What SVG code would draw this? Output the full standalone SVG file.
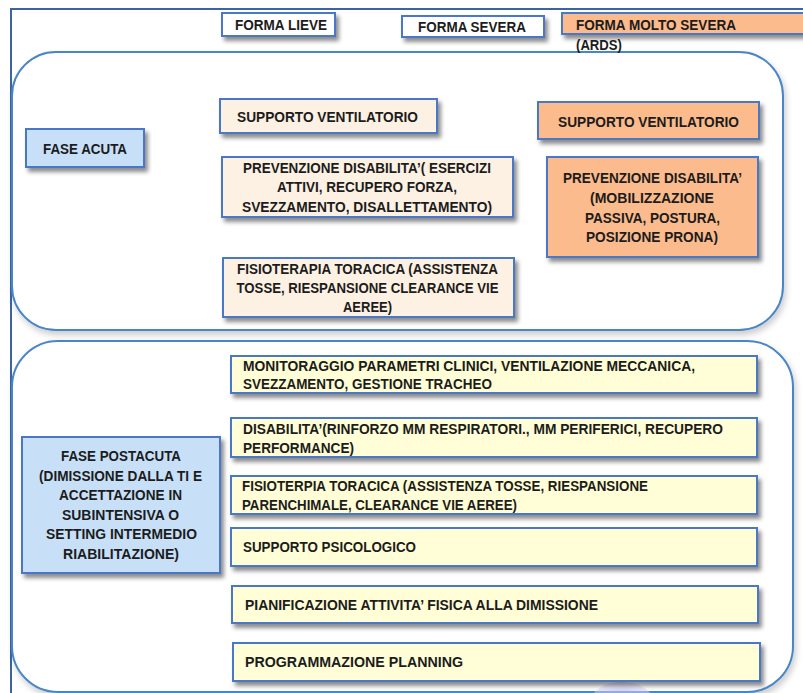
<svg xmlns="http://www.w3.org/2000/svg" width="803" height="693" viewBox="0 0 803 693">
<defs>
<style>
text{font-family:"Liberation Sans",Arial,sans-serif;font-weight:bold;font-size:14.5px;fill:#1c1c1c;}
.c{text-anchor:middle;}
.box{stroke:#4A78C8;stroke-width:2;}
.peach{fill:#FDF1E4;}
.orange{fill:#FBBB8C;}
.blue{fill:#C7E0F8;}
.yellow{fill:#FFFED6;}
.white{fill:#FFFFFF;}
.panel{fill:#FFFFFF;stroke:#4A86C8;stroke-width:2;}
</style>
<filter id="sh" x="-10%" y="-20%" width="130%" height="160%">
<feDropShadow dx="3" dy="4" stdDeviation="2" flood-color="#000" flood-opacity="0.45"/>
</filter>
<filter id="psh" x="-5%" y="-5%" width="110%" height="115%">
<feDropShadow dx="2" dy="4" stdDeviation="3" flood-color="#000" flood-opacity="0.2"/>
</filter>
<radialGradient id="blob" cx="50%" cy="60%" r="55%">
<stop offset="0" stop-color="#9090E0"/>
<stop offset="1" stop-color="#D0D0F4" stop-opacity="0.5"/>
</radialGradient>
</defs>

<rect width="803" height="693" fill="#FFFFFF"/>
<g id="frame">
<rect x="11" y="9" width="820" height="720" fill="#FFFFFF" stroke="#3C64A0" stroke-width="2"/>
</g>

<g id="panel-acuta">
<rect class="panel" filter="url(#psh)" x="12" y="52" width="771" height="278" rx="44" ry="44"/>
</g>
<g id="panel-postacuta">
<rect class="panel" filter="url(#psh)" x="12" y="341" width="781" height="351" rx="46" ry="46"/>
</g>
<ellipse cx="622" cy="703" rx="32" ry="21" fill="url(#blob)"/>

<g id="forma-lieve">
<rect class="box white" filter="url(#sh)" x="222" y="13" width="113" height="23"/>
<text class="c" x="281" y="30" textLength="92" lengthAdjust="spacingAndGlyphs">FORMA LIEVE</text>
</g>
<g id="forma-severa">
<rect class="box white" filter="url(#sh)" x="402" y="16" width="142" height="21"/>
<text class="c" x="472" y="32" textLength="108" lengthAdjust="spacingAndGlyphs">FORMA SEVERA</text>
</g>
<g id="forma-molto-severa">
<rect class="box orange" filter="url(#sh)" x="562" y="13" width="260" height="21"/>
<text x="576" y="29.5" textLength="160" lengthAdjust="spacingAndGlyphs">FORMA MOLTO SEVERA</text>
<text x="576" y="50" textLength="46" lengthAdjust="spacingAndGlyphs">(ARDS)</text>
</g>

<g id="fase-acuta">
<rect class="box blue" filter="url(#sh)" x="26" y="129" width="118" height="38"/>
<text class="c" x="85" y="153.5" textLength="84" lengthAdjust="spacingAndGlyphs">FASE ACUTA</text>
</g>
<g id="supporto-ventilatorio-severa">
<rect class="box peach" filter="url(#sh)" x="220" y="99" width="217" height="34"/>
<text class="c" x="327.5" y="122" textLength="181" lengthAdjust="spacingAndGlyphs">SUPPORTO VENTILATORIO</text>
</g>
<g id="prevenzione-severa">
<rect class="box peach" filter="url(#sh)" x="222" y="157" width="291" height="60"/>
<text class="c" x="367" y="173" textLength="248" lengthAdjust="spacingAndGlyphs">PREVENZIONE DISABILITA’( ESERCIZI</text>
<text class="c" x="367" y="192" textLength="180" lengthAdjust="spacingAndGlyphs">ATTIVI, RECUPERO FORZA,</text>
<text class="c" x="367" y="212" textLength="250" lengthAdjust="spacingAndGlyphs">SVEZZAMENTO, DISALLETTAMENTO)</text>
</g>
<g id="fisioterapia-severa">
<rect class="box peach" filter="url(#sh)" x="223" y="258" width="291" height="59"/>
<text class="c" x="367.5" y="274" textLength="261" lengthAdjust="spacingAndGlyphs">FISIOTERAPIA TORACICA (ASSISTENZA</text>
<text class="c" x="367.5" y="293" textLength="262" lengthAdjust="spacingAndGlyphs">TOSSE, RIESPANSIONE CLEARANCE VIE</text>
<text class="c" x="367.5" y="312" textLength="49" lengthAdjust="spacingAndGlyphs">AEREE)</text>
</g>
<g id="supporto-ventilatorio-ards">
<rect class="box orange" filter="url(#sh)" x="538" y="102" width="221" height="37"/>
<text class="c" x="648.5" y="127" textLength="181" lengthAdjust="spacingAndGlyphs">SUPPORTO VENTILATORIO</text>
</g>
<g id="prevenzione-ards">
<rect class="box orange" filter="url(#sh)" x="547" y="157" width="211" height="100"/>
<text class="c" x="652.5" y="183" textLength="179" lengthAdjust="spacingAndGlyphs">PREVENZIONE DISABILITA’</text>
<text class="c" x="652" y="203" textLength="124" lengthAdjust="spacingAndGlyphs">(MOBILIZZAZIONE</text>
<text class="c" x="652.5" y="223" textLength="135" lengthAdjust="spacingAndGlyphs">PASSIVA, POSTURA,</text>
<text class="c" x="652" y="242" textLength="132" lengthAdjust="spacingAndGlyphs">POSIZIONE PRONA)</text>
</g>

<g id="fase-postacuta">
<rect class="box blue" filter="url(#sh)" x="22" y="437" width="198" height="136"/>
<text class="c" x="121" y="461" textLength="120" lengthAdjust="spacingAndGlyphs">FASE POSTACUTA</text>
<text class="c" x="120.5" y="481" textLength="163" lengthAdjust="spacingAndGlyphs">(DIMISSIONE DALLA TI E</text>
<text class="c" x="120.5" y="500" textLength="123" lengthAdjust="spacingAndGlyphs">ACCETTAZIONE IN</text>
<text class="c" x="120.5" y="520" textLength="117" lengthAdjust="spacingAndGlyphs">SUBINTENSIVA O</text>
<text class="c" x="121.5" y="539" textLength="151" lengthAdjust="spacingAndGlyphs">SETTING INTERMEDIO</text>
<text class="c" x="121" y="559" textLength="116" lengthAdjust="spacingAndGlyphs">RIABILITAZIONE)</text>
</g>
<g id="monitoraggio">
<rect class="box yellow" filter="url(#sh)" x="231" y="356" width="526" height="37"/>
<text x="243" y="370.5" textLength="452" lengthAdjust="spacingAndGlyphs">MONITORAGGIO PARAMETRI CLINICI, VENTILAZIONE MECCANICA,</text>
<text x="243" y="389" textLength="249" lengthAdjust="spacingAndGlyphs">SVEZZAMENTO, GESTIONE TRACHEO</text>
</g>
<g id="disabilita">
<rect class="box yellow" filter="url(#sh)" x="231" y="418" width="526" height="39"/>
<text x="243" y="434" textLength="480" lengthAdjust="spacingAndGlyphs">DISABILITA’(RINFORZO MM RESPIRATORI., MM  PERIFERICI, RECUPERO</text>
<text x="243" y="452.5" textLength="111" lengthAdjust="spacingAndGlyphs">PERFORMANCE)</text>
</g>
<g id="fisioterapia-postacuta">
<rect class="box yellow" filter="url(#sh)" x="231" y="476" width="526" height="38"/>
<text x="242" y="491" textLength="406" lengthAdjust="spacingAndGlyphs">FISIOTERPIA TORACICA (ASSISTENZA TOSSE, RIESPANSIONE</text>
<text x="242" y="510" textLength="275" lengthAdjust="spacingAndGlyphs">PARENCHIMALE, CLEARANCE VIE AEREE)</text>
</g>
<g id="supporto-psicologico">
<rect class="box yellow" filter="url(#sh)" x="231" y="528" width="526" height="38"/>
<text x="243" y="552" textLength="173" lengthAdjust="spacingAndGlyphs">SUPPORTO PSICOLOGICO</text>
</g>
<g id="pianificazione">
<rect class="box yellow" filter="url(#sh)" x="232" y="586" width="526" height="37"/>
<text x="245" y="610" textLength="353" lengthAdjust="spacingAndGlyphs">PIANIFICAZIONE ATTIVITA’ FISICA ALLA DIMISSIONE</text>
</g>
<g id="programmazione">
<rect class="box yellow" filter="url(#sh)" x="233" y="643" width="527" height="38"/>
<text x="245" y="667" textLength="218" lengthAdjust="spacingAndGlyphs">PROGRAMMAZIONE PLANNING</text>
</g>
<g id="connectors"></g>
</svg>
